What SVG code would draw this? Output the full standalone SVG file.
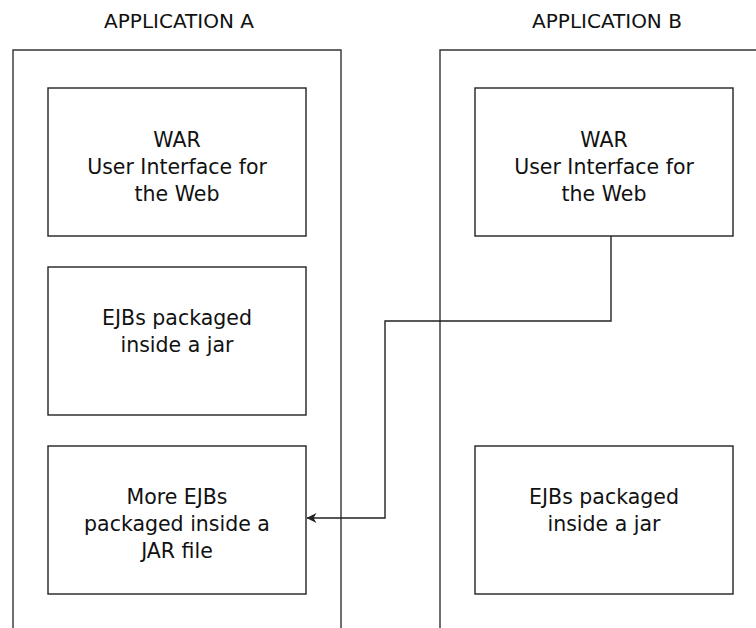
<svg xmlns="http://www.w3.org/2000/svg" width="756" height="628" viewBox="0 0 756 628">
<style>
  .frame { fill: none; stroke: #333; stroke-width: 1.4; }
  .box { fill: #fff; stroke: #222; stroke-width: 1.4; }
  .title { font-family: "DejaVu Sans", "Liberation Sans", sans-serif; font-size: 20px; fill: #111; text-anchor: middle; }
  .lbl { font-family: "DejaVu Sans", "Liberation Sans", sans-serif; font-size: 20.5px; fill: #111; text-anchor: middle; }
  .conn { fill: none; stroke: #222; stroke-width: 1.4; }
</style>
<defs>
  <marker id="arr" viewBox="0 0 10 10" refX="9.5" refY="5" markerWidth="10" markerHeight="10" markerUnits="userSpaceOnUse" orient="auto">
    <path d="M0,0 L10,5 L0,10 L3,5 Z" fill="#222"/>
  </marker>
</defs>
<rect width="756" height="628" fill="#fff"/>

<g id="appA">
  <path class="frame" d="M13,628 V50 H341 V628"/>
  <text class="title" x="179" y="28">APPLICATION A</text>
</g>
<g id="appB">
  <path class="frame" d="M440,628 V50 H756"/>
  <text class="title" x="607" y="28">APPLICATION B</text>
</g>

<g id="warA">
  <rect class="box" x="48" y="88" width="258" height="148"/>
  <text class="lbl" x="177" y="147">WAR</text>
  <text class="lbl" x="177" y="174">User Interface for</text>
  <text class="lbl" x="177" y="201">the Web</text>
</g>
<g id="ejbA">
  <rect class="box" x="48" y="267" width="258" height="148"/>
  <text class="lbl" x="177" y="325">EJBs packaged</text>
  <text class="lbl" x="177" y="352">inside a jar</text>
</g>
<g id="moreEjbA">
  <rect class="box" x="48" y="446" width="258" height="148"/>
  <text class="lbl" x="177" y="504">More EJBs</text>
  <text class="lbl" x="177" y="531">packaged inside a</text>
  <text class="lbl" x="177" y="558">JAR file</text>
</g>
<g id="warB">
  <rect class="box" x="475" y="88" width="258" height="148"/>
  <text class="lbl" x="604" y="147">WAR</text>
  <text class="lbl" x="604" y="174">User Interface for</text>
  <text class="lbl" x="604" y="201">the Web</text>
</g>
<g id="ejbB">
  <rect class="box" x="475" y="446" width="258" height="148"/>
  <text class="lbl" x="604" y="504">EJBs packaged</text>
  <text class="lbl" x="604" y="531">inside a jar</text>
</g>

<g id="connectors">
  <path class="conn" d="M611,236 V321 H385 V518 H307" marker-end="url(#arr)"/>
</g>
</svg>
